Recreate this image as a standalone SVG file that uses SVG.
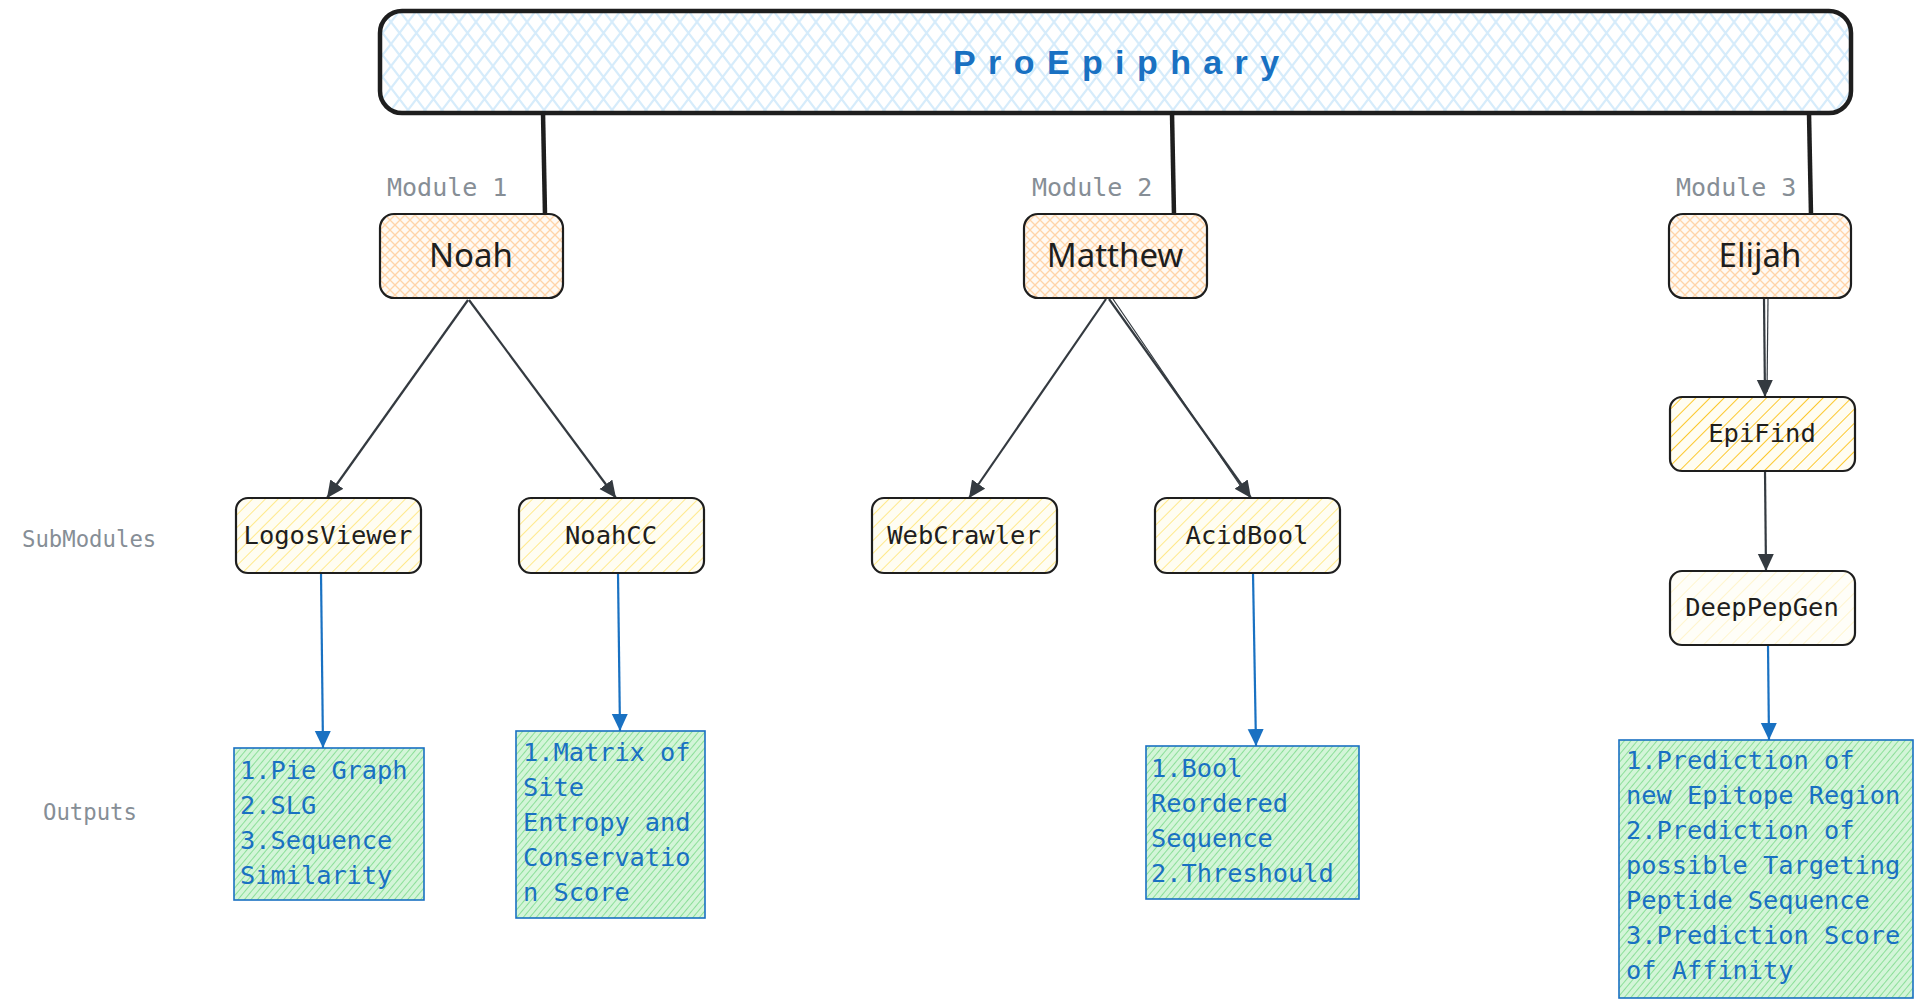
<svg xmlns="http://www.w3.org/2000/svg" width="1920" height="1005" viewBox="0 0 1920 1005">
<defs>
<style>
.box{stroke:#1e1e1e;stroke-width:2.2}
.mtxt{font-family:"Noto Sans","Liberation Sans",sans-serif;font-size:33px;fill:#1e1e1e;text-anchor:middle}
.stxt{font-family:"DejaVu Sans Mono","Liberation Mono",monospace;font-size:25.5px;fill:#1e1e1e;text-anchor:middle}
.lbl{font-family:"DejaVu Sans Mono","Liberation Mono",monospace;font-size:25px;fill:#868e96}
.side{font-family:"DejaVu Sans Mono","Liberation Mono",monospace;font-size:22.3px;fill:#868e96}
.otxt{font-family:"DejaVu Sans Mono","Liberation Mono",monospace;font-size:25.3px;fill:#1971c2}
.out{stroke:#1971c2;stroke-width:1.6}
.dk{stroke:#343a40;stroke-width:2.2;fill:none}
.bl{stroke:#1971c2;stroke-width:2.2;fill:none}
.top{stroke:#1e1e1e;stroke-width:4.5;fill:none}
</style>
<pattern id="crossBlue" patternUnits="userSpaceOnUse" width="17" height="22">
<rect width="17" height="22" fill="#ffffff"/>
<path d="M0,0 L17,22 M17,0 L0,22" stroke="#d6ecfb" stroke-width="2.2"/>
</pattern>
<pattern id="crossOrange" patternUnits="userSpaceOnUse" width="10" height="10">
<rect width="10" height="10" fill="#fffaf4"/>
<path d="M0,0 L10,10 M10,0 L0,10" stroke="#ffd4a8" stroke-width="1.3"/>
</pattern>
<pattern id="hatchYellow" patternUnits="userSpaceOnUse" width="9" height="9" patternTransform="rotate(45)">
<rect width="9" height="9" fill="#fffdf2"/>
<line x1="0" y1="0" x2="0" y2="9" stroke="#ffe98c" stroke-width="2"/>
</pattern>
<pattern id="hatchGold" patternUnits="userSpaceOnUse" width="10" height="10" patternTransform="rotate(45)">
<rect width="10" height="10" fill="#fffdf2"/>
<line x1="0" y1="0" x2="0" y2="10" stroke="#fcc82e" stroke-width="2"/>
</pattern>
<pattern id="hatchPale" patternUnits="userSpaceOnUse" width="10" height="10" patternTransform="rotate(45)">
<rect width="10" height="10" fill="#fffef8"/>
<line x1="0" y1="0" x2="0" y2="10" stroke="#fff3c4" stroke-width="1.6"/>
</pattern>
<pattern id="hatchGreen" patternUnits="userSpaceOnUse" width="5" height="5" patternTransform="rotate(40)">
<rect width="5" height="5" fill="#d3f5d8"/>
<line x1="0" y1="0" x2="0" y2="5" stroke="#7fdc8e" stroke-width="1.7"/>
</pattern>
<marker id="ahDark" markerUnits="userSpaceOnUse" markerWidth="20" markerHeight="20" refX="17" refY="8" orient="auto">
<path d="M0,0 L17,8 L0,16 Z" fill="#343a40"/>
</marker>
<marker id="ahBlue" markerUnits="userSpaceOnUse" markerWidth="20" markerHeight="20" refX="17" refY="8" orient="auto">
<path d="M0,0 L17,8 L0,16 Z" fill="#1971c2"/>
</marker>
</defs>
<rect width="1920" height="1005" fill="#ffffff"/>

<g id="title">
<rect x="380" y="11" width="1471" height="102" rx="22" fill="url(#crossBlue)" stroke="#1e1e1e" stroke-width="4.5"/>
<text x="953" y="74" font-family="'Liberation Sans',Arial,sans-serif" font-weight="bold" font-size="34" letter-spacing="12.4" fill="#1971c2">ProEpiphary</text>
</g>

<g id="connectors">
<line class="top" x1="543" y1="113" x2="545" y2="215"/>
<line class="top" x1="1172" y1="113" x2="1174" y2="215"/>
<line class="top" x1="1809" y1="113" x2="1811" y2="215"/>

<line class="dk" x1="468" y1="300" x2="327" y2="498" marker-end="url(#ahDark)"/>
<line class="dk" x1="469" y1="300" x2="616" y2="498" marker-end="url(#ahDark)"/>
<line class="dk" x1="1106" y1="299" x2="969" y2="498" marker-end="url(#ahDark)"/>
<line class="dk" x1="1109" y1="299" x2="1251" y2="498" marker-end="url(#ahDark)"/>
<line x1="1113" y1="299" x2="1246" y2="494" stroke="#343a40" stroke-width="1.2"/>
<line class="dk" x1="1764" y1="299" x2="1765" y2="397" marker-end="url(#ahDark)"/>
<line x1="1768" y1="299" x2="1767" y2="392" stroke="#343a40" stroke-width="1.2"/>
<line class="dk" x1="1765" y1="471" x2="1766" y2="571" marker-end="url(#ahDark)"/>

<line class="bl" x1="321" y1="573" x2="323" y2="748" marker-end="url(#ahBlue)"/>
<line class="bl" x1="618" y1="573" x2="620" y2="731" marker-end="url(#ahBlue)"/>
<line class="bl" x1="1253" y1="573" x2="1256" y2="746" marker-end="url(#ahBlue)"/>
<line class="bl" x1="1768" y1="645" x2="1769" y2="740" marker-end="url(#ahBlue)"/>
</g>

<g id="label-module1"><text class="lbl" x="387" y="196">Module 1</text></g>
<g id="label-module2"><text class="lbl" x="1032" y="196">Module 2</text></g>
<g id="label-module3"><text class="lbl" x="1676" y="196">Module 3</text></g>
<g id="label-submodules"><text class="side" x="22" y="547">SubModules</text></g>
<g id="label-outputs"><text class="side" x="43" y="820">Outputs</text></g>

<g id="noah">
<rect class="box" x="380" y="214" width="183" height="84" rx="14" fill="url(#crossOrange)"/>
<text class="mtxt" x="471" y="267">Noah</text>
</g>
<g id="matthew">
<rect class="box" x="1024" y="214" width="183" height="84" rx="14" fill="url(#crossOrange)"/>
<text class="mtxt" x="1115" y="267">Matthew</text>
</g>
<g id="elijah">
<rect class="box" x="1669" y="214" width="182" height="84" rx="14" fill="url(#crossOrange)"/>
<text class="mtxt" x="1760" y="267">Elijah</text>
</g>

<g id="logosviewer">
<rect class="box" x="236" y="498" width="185" height="75" rx="12" fill="url(#hatchYellow)"/>
<text class="stxt" x="328" y="544">LogosViewer</text>
</g>
<g id="noahcc">
<rect class="box" x="519" y="498" width="185" height="75" rx="12" fill="url(#hatchYellow)"/>
<text class="stxt" x="611" y="544">NoahCC</text>
</g>
<g id="webcrawler">
<rect class="box" x="872" y="498" width="185" height="75" rx="12" fill="url(#hatchYellow)"/>
<text class="stxt" x="964" y="544">WebCrawler</text>
</g>
<g id="acidbool">
<rect class="box" x="1155" y="498" width="185" height="75" rx="12" fill="url(#hatchYellow)"/>
<text class="stxt" x="1247" y="544">AcidBool</text>
</g>
<g id="epifind">
<rect class="box" x="1670" y="397" width="185" height="74" rx="12" fill="url(#hatchGold)"/>
<text class="stxt" x="1762" y="442">EpiFind</text>
</g>
<g id="deeppepgen">
<rect class="box" x="1670" y="571" width="185" height="74" rx="12" fill="url(#hatchPale)"/>
<text class="stxt" x="1762" y="616">DeepPepGen</text>
</g>

<g id="output1">
<rect class="out" x="234" y="748" width="190" height="152" fill="url(#hatchGreen)"/>
<text class="otxt" x="240" y="779">1.Pie Graph</text>
<text class="otxt" x="240" y="814">2.SLG</text>
<text class="otxt" x="240" y="849">3.Sequence</text>
<text class="otxt" x="240" y="884">Similarity</text>
</g>
<g id="output2">
<rect class="out" x="516" y="731" width="189" height="187" fill="url(#hatchGreen)"/>
<text class="otxt" x="523" y="761">1.Matrix of</text>
<text class="otxt" x="523" y="796">Site</text>
<text class="otxt" x="523" y="831">Entropy and</text>
<text class="otxt" x="523" y="866">Conservatio</text>
<text class="otxt" x="523" y="901">n Score</text>
</g>
<g id="output3">
<rect class="out" x="1146" y="746" width="213" height="153" fill="url(#hatchGreen)"/>
<text class="otxt" x="1151" y="777">1.Bool</text>
<text class="otxt" x="1151" y="812">Reordered</text>
<text class="otxt" x="1151" y="847">Sequence</text>
<text class="otxt" x="1151" y="882">2.Threshould</text>
</g>
<g id="output4">
<rect class="out" x="1619" y="740" width="294" height="258" fill="url(#hatchGreen)"/>
<text class="otxt" x="1626" y="769">1.Prediction of</text>
<text class="otxt" x="1626" y="804">new Epitope Region</text>
<text class="otxt" x="1626" y="839">2.Prediction of</text>
<text class="otxt" x="1626" y="874">possible Targeting</text>
<text class="otxt" x="1626" y="909">Peptide Sequence</text>
<text class="otxt" x="1626" y="944">3.Prediction Score</text>
<text class="otxt" x="1626" y="979">of Affinity</text>
</g>
</svg>
